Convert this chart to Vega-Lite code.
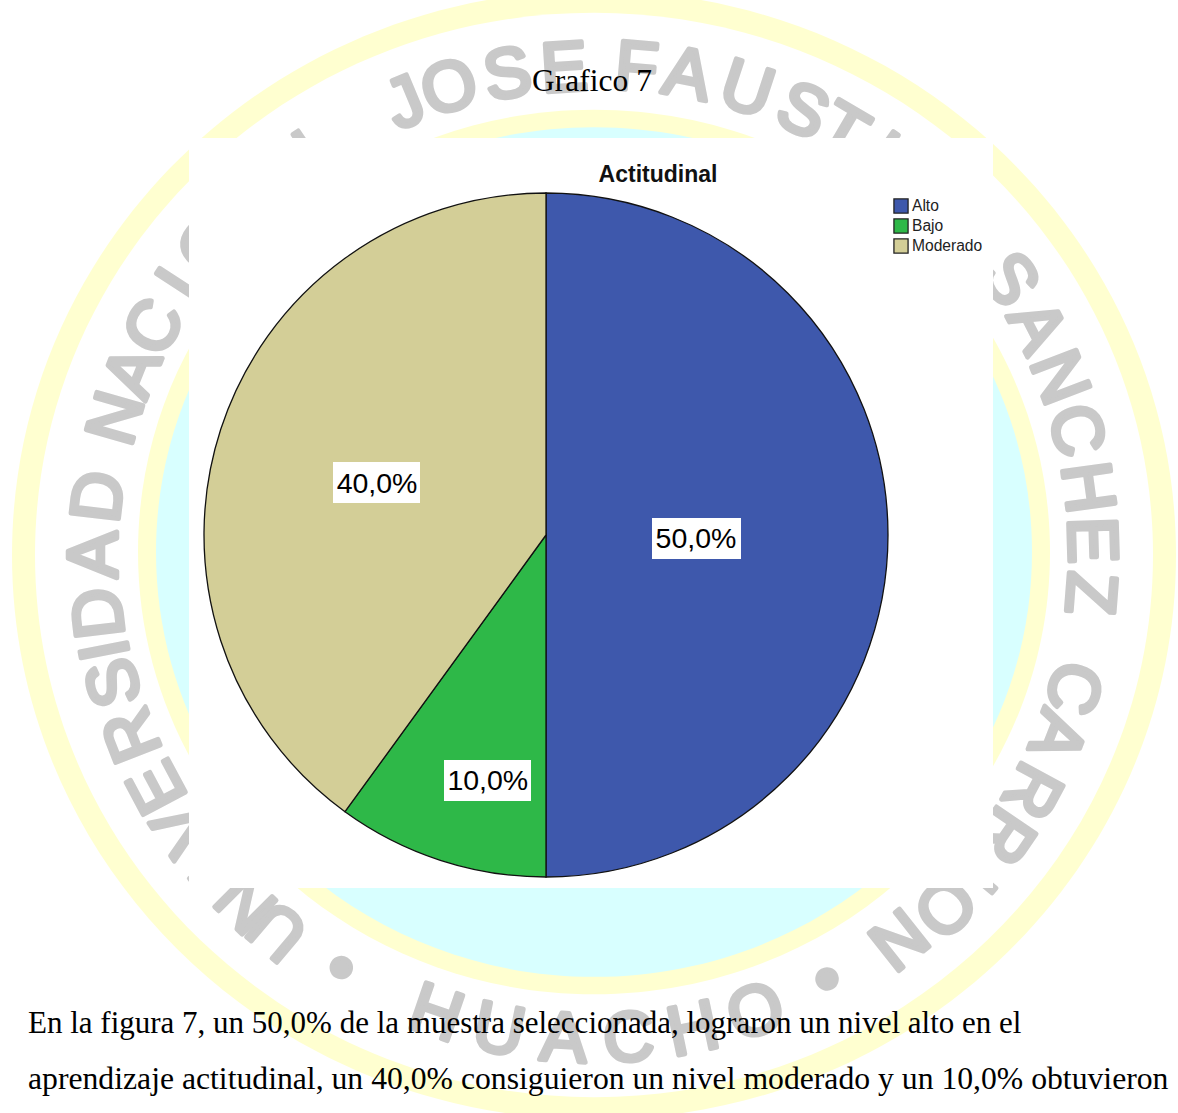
{
"$schema":"https://vega.github.io/schema/vega-lite/v6.json",
"width":1178,"height":1113,"padding":0,
"autosize":{"type":"fit","contains":"padding"},
"background":"white",
"config":{"view":{"stroke":null},"axis":{"disable":true},"font":"Liberation Sans"},
"datasets":{
"pie":[{"Nivel":"Alto","pct":50,"etiqueta":"50,0%"},{"Nivel":"Bajo","pct":10,"etiqueta":"10,0%"},{"Nivel":"Moderado","pct":40,"etiqueta":"40,0%"}],
"sello":[{"c":"U","i":0},{"c":"N","i":1},{"c":"I","i":2},{"c":"V","i":3},{"c":"E","i":4},{"c":"R","i":5},{"c":"S","i":6},{"c":"I","i":7},{"c":"D","i":8},{"c":"A","i":9},{"c":"D","i":10},{"c":"N","i":12},{"c":"A","i":13},{"c":"C","i":14},{"c":"I","i":15},{"c":"O","i":16},{"c":"N","i":17},{"c":"A","i":18},{"c":"L","i":19},{"c":"J","i":21},{"c":"O","i":22},{"c":"S","i":23},{"c":"E","i":24},{"c":"F","i":26},{"c":"A","i":27},{"c":"U","i":28},{"c":"S","i":29},{"c":"T","i":30},{"c":"I","i":31},{"c":"N","i":32},{"c":"O","i":33},{"c":"S","i":35},{"c":"A","i":36},{"c":"N","i":37},{"c":"C","i":38},{"c":"H","i":39},{"c":"E","i":40},{"c":"Z","i":41},{"c":"C","i":43},{"c":"A","i":44},{"c":"R","i":45},{"c":"R","i":46},{"c":"I","i":47},{"c":"O","i":48},{"c":"N","i":49}],
"sede":[{"c":"•","i":0},{"c":"H","i":2},{"c":"U","i":3},{"c":"A","i":4},{"c":"C","i":5},{"c":"H","i":6},{"c":"O","i":7},{"c":"•","i":9}],
"uno":[{"n":1}]
},
"data":{"name":"pie"},
"resolve":{"scale":{"theta":"independent","radius":"independent","angle":"independent","color":"independent"}},
"layer":[
{"data":{"name":"uno"},"mark":{"type":"point","filled":true,"opacity":1,"clip":true,"fill":"#FFFFD0","size":1354896,"shape":"M-1,0A1,0.97,0,1,1,1,0A1,0.97,0,1,1,-1,0Z"},
 "encoding":{"x":{"datum":594,"type":"quantitative","scale":{"domain":[0,1178],"range":[0,1178],"nice":false,"zero":false}},"y":{"datum":555,"type":"quantitative","scale":{"domain":[0,1113],"range":[0,1113],"nice":false,"zero":false}}}},
{"data":{"name":"uno"},"mark":{"type":"point","filled":true,"opacity":1,"clip":true,"fill":"#FFFFFF","size":1249924,"shape":"M-1,0A1,0.97,0,1,1,1,0A1,0.97,0,1,1,-1,0Z"},
 "encoding":{"x":{"datum":594,"type":"quantitative"},"y":{"datum":555,"type":"quantitative"}}},
{"data":{"name":"uno"},"mark":{"type":"point","filled":true,"opacity":1,"clip":true,"fill":"#FFFFD0","size":831744,"shape":"M-1,0A1,0.97,0,1,1,1,0A1,0.97,0,1,1,-1,0Z"},
 "encoding":{"x":{"datum":594,"type":"quantitative"},"y":{"datum":552,"type":"quantitative"}}},
{"data":{"name":"uno"},"mark":{"type":"point","filled":true,"opacity":1,"clip":true,"fill":"#D8FFFF","size":767376,"shape":"M-1,0A1,0.97,0,1,1,1,0A1,0.97,0,1,1,-1,0Z"},
 "encoding":{"x":{"datum":594,"type":"quantitative"},"y":{"datum":552,"type":"quantitative"}}},
{"data":{"name":"sello"},"mark":{"type":"text","clip":true,"font":"Liberation Sans","fontSize":70,"fill":"#C9C9C9","stroke":"#C9C9C9","strokeWidth":4.5,"strokeJoin":"round","baseline":"middle","align":"center"},
 "encoding":{"x":{"datum":594,"type":"quantitative"},"y":{"datum":555,"type":"quantitative"},"text":{"field":"c"},
 "radius":{"field":"i","type":"quantitative","scale":{"domain":[0,9,24,30,35,48,49],"range":[489,498,486,490,497,495,488]}},
 "theta":{"field":"i","type":"quantitative","stack":null,"scale":{"domain":[0,1,2,3,4,5,6,7,8,9,10,12,21,22,23,24,26,27,28,29,35,36,37,38,39,40,41,43,44,45,46,47,48,49],"range":[3.8415,3.9270,4.0317,4.1260,4.2237,4.3406,4.4523,4.5204,4.5954,4.7124,4.8294,4.9916,5.8870,5.9830,6.1051,6.2221,6.3705,6.4752,6.6009,6.7230,7.2676,7.3775,7.4892,7.6009,7.7179,7.8243,7.9308,8.1245,8.2257,8.3479,8.4544,8.5521,8.6411,8.7546]}},
 "angle":{"field":"i","type":"quantitative","scale":{"domain":[0,1,2,3,4,5,6,7,8,9,10,12,21,22,23,24,26,27,28,29,35,36,37,38,39,40,41,43,44,45,46,47,48,49],"range":[220.1,225,231,236.4,242,248.7,255.1,259,263.3,270,276.7,286,337.3,342.8,349.8,356.5,365,371,378.2,385.2,416.4,422.7,429.1,435.5,442.2,448.3,454.4,465.5,471.3,478.3,484.4,490,495.1,501.6]}}}},
{"data":{"name":"sede"},"mark":{"type":"text","clip":true,"font":"Liberation Sans","fontSize":70,"fill":"#C9C9C9","stroke":"#C9C9C9","strokeWidth":4.5,"strokeJoin":"round","baseline":"middle","align":"center","radius":486},
 "encoding":{"x":{"datum":594,"type":"quantitative"},"y":{"datum":555,"type":"quantitative"},"text":{"field":"c"},
 "theta":{"field":"i","type":"quantitative","stack":null,"scale":{"domain":[0,2,7,9],"range":[3.6913,3.4732,2.8012,2.6389]}},
 "angle":{"field":"i","type":"quantitative","scale":{"domain":[0,2,7,9],"range":[31.5,19,-19.5,-28.8]}}}},
{"data":{"name":"uno"},"mark":{"type":"text","font":"Liberation Serif","fontSize":31.5,"fill":"black","align":"center","baseline":"alphabetic"},
 "encoding":{"x":{"datum":592,"type":"quantitative"},"y":{"datum":91,"type":"quantitative"},"text":{"value":"Grafico 7"}}},
{"data":{"name":"uno"},"mark":{"type":"text","font":"Liberation Serif","fontSize":31,"fill":"black","align":"left","baseline":"alphabetic"},
 "encoding":{"x":{"datum":28,"type":"quantitative"},"y":{"datum":1033,"type":"quantitative"},"text":{"value":"En la figura 7, un 50,0% de la muestra seleccionada, lograron un nivel alto en el"}}},
{"data":{"name":"uno"},"mark":{"type":"text","font":"Liberation Serif","fontSize":31.7,"fill":"black","align":"left","baseline":"alphabetic"},
 "encoding":{"x":{"datum":28,"type":"quantitative"},"y":{"datum":1089,"type":"quantitative"},"text":{"value":"aprendizaje actitudinal, un 40,0% consiguieron un nivel moderado y un 10,0% obtuvieron"}}},
{"data":{"name":"uno"},"mark":{"type":"rect","fill":"white"},
 "encoding":{"x":{"datum":189,"type":"quantitative"},"x2":{"datum":993},"y":{"datum":138,"type":"quantitative"},"y2":{"datum":888}}},
{"mark":{"type":"arc","radius":342,"stroke":"#111111","strokeWidth":1.3},
 "encoding":{"x":{"datum":546,"type":"quantitative"},"y":{"datum":535,"type":"quantitative"},
 "theta":{"field":"pct","type":"quantitative","stack":true,"scale":{"domain":[0,100],"range":[0,6.2832]}},
 "order":{"field":"Nivel"},
 "color":{"field":"Nivel","type":"nominal","scale":{"domain":["Alto","Bajo","Moderado"],"range":["#3E58AC","#2EB848","#D3CE97"]},
 "legend":{"orient":"none","legendX":893,"legendY":198,"title":null,"symbolType":"square","symbolSize":200,"symbolStrokeColor":"#222222","symbolStrokeWidth":1.3,"labelFont":"Liberation Sans","labelFontSize":15.6,"labelColor":"#222222","rowPadding":0,"labelOffset":3,"symbolOpacity":1}}}},
{"data":{"name":"uno"},"mark":{"type":"rect","fill":"white"},"encoding":{"x":{"datum":333,"type":"quantitative"},"x2":{"datum":420},"y":{"datum":462,"type":"quantitative"},"y2":{"datum":503}}},
{"data":{"name":"uno"},"mark":{"type":"rect","fill":"white"},"encoding":{"x":{"datum":652,"type":"quantitative"},"x2":{"datum":741},"y":{"datum":518,"type":"quantitative"},"y2":{"datum":559}}},
{"data":{"name":"uno"},"mark":{"type":"rect","fill":"white"},"encoding":{"x":{"datum":444,"type":"quantitative"},"x2":{"datum":531},"y":{"datum":760,"type":"quantitative"},"y2":{"datum":801}}},
{"mark":{"type":"text","font":"Liberation Sans","fontSize":28.5,"fill":"black","align":"center","baseline":"middle"},
 "encoding":{"x":{"datum":546,"type":"quantitative"},"y":{"datum":535,"type":"quantitative"},"text":{"field":"etiqueta"},
 "theta":{"field":"pct","type":"quantitative","stack":null,"scale":{"domain":[10,40,50],"range":[3.374,5.006,1.597]}},
 "radius":{"field":"pct","type":"quantitative","scale":{"domain":[10,40,50],"range":[252.7,176.5,150]}}}},
{"data":{"name":"uno"},"mark":{"type":"text","font":"Liberation Sans","fontSize":23,"fontWeight":"bold","fill":"#111111","align":"center","baseline":"middle"},
 "encoding":{"x":{"datum":658,"type":"quantitative"},"y":{"datum":175,"type":"quantitative"},"text":{"value":"Actitudinal"}}}
]
}
